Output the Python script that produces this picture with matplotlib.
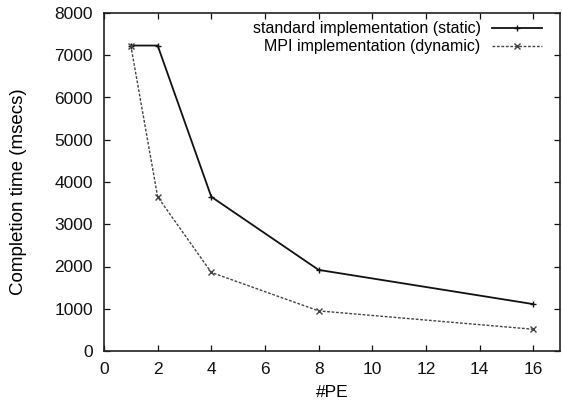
import matplotlib
matplotlib.use("Agg")
import matplotlib.pyplot as plt

pe = [1, 2, 4, 8, 16]
standard_static = [7230, 7230, 3650, 1920, 1110]
mpi_dynamic = [7230, 3650, 1860, 950, 515]
labels = ["standard implementation (static)", "MPI implementation (dynamic)"]
xticks = [0, 2, 4, 6, 8, 10, 12, 14, 16]
yticks = [0, 1000, 2000, 3000, 4000, 5000, 6000, 7000, 8000]

plt.rcParams['font.family'] = ['Liberation Sans', 'DejaVu Sans']
fig = plt.figure(figsize=(5.62, 4.08), dpi=100)
ax = fig.add_axes([104/562, 1-351/408, (560-104)/562, (351-13)/408])

ax.plot(pe, standard_static, color='#111111', lw=1.3, marker='+', ms=5, mew=1.0,
        label=labels[0])
ax.plot(pe, mpi_dynamic, color='#444444', lw=1.0, ls=(0, (2, 1.2)), marker='x', ms=4,
        mew=1.0, label=labels[1])

ax.set_xlim(0, 17)
ax.set_ylim(0, 8000)
ax.set_xticks(xticks)
ax.set_yticks(yticks)
ax.tick_params(direction='in', top=True, right=True, length=4, width=0.9,
               labelsize=12.5, pad=8, colors='#111111')
for s in ax.spines.values():
    s.set_linewidth(1.2)
    s.set_color('#222222')
ax.set_xlabel('#PE', fontsize=12.5, labelpad=6)
ax.set_ylabel('Completion time (msecs)', fontsize=13.5, va='center')
ax.yaxis.set_label_coords((19-104)/456, (351-192)/338)

leg = ax.legend(loc='upper right', frameon=False, markerfirst=False, fontsize=11.5,
                handlelength=3.1, handletextpad=0.75, labelspacing=0.18,
                borderpad=0, borderaxespad=0,
                bbox_to_anchor=((542-104)/456, 0.975))

fig.savefig('out.png', dpi=100)
